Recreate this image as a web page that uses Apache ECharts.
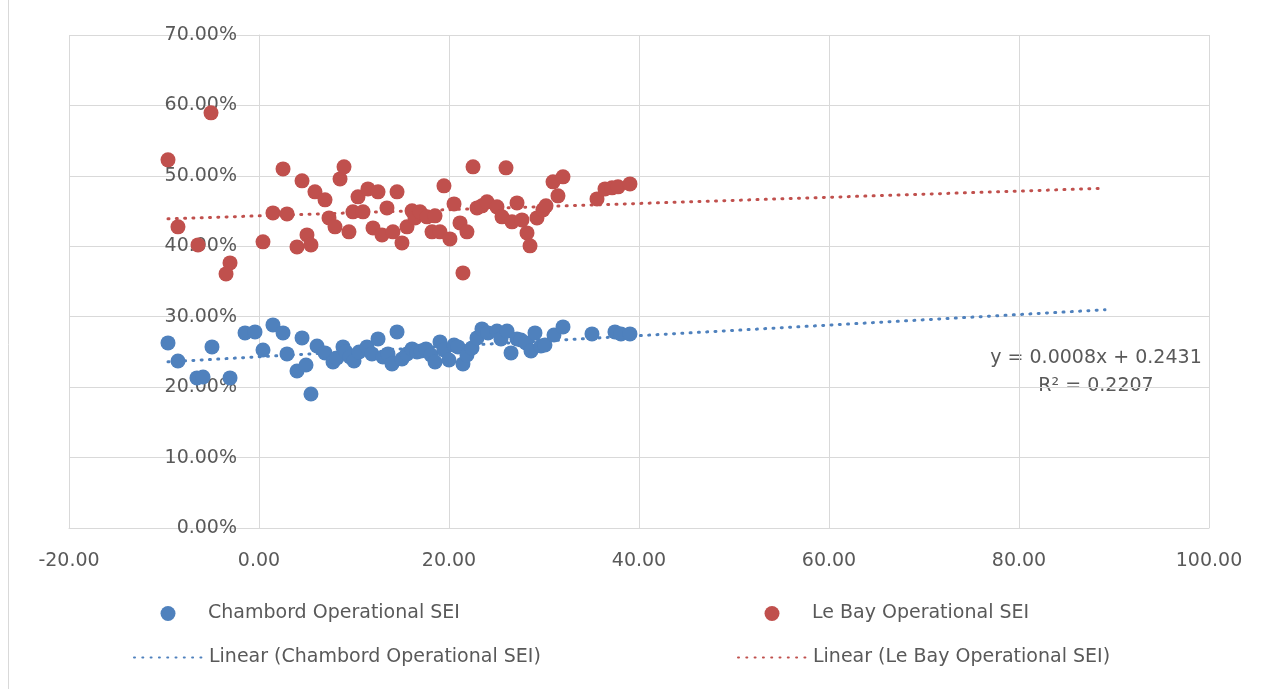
<!DOCTYPE html>
<html>
<head>
<meta charset="utf-8">
<script src="https://cdn.jsdelivr.net/npm/echarts@6/dist/echarts.min.js"></script>
<style>
html,body{margin:0;padding:0;background:#fff;}
#chart{width:1268px;height:689px;}
</style>
</head>
<body>
<div id="chart"></div>
<script>
// ---- Data ----
const chambordX = [-9.58,-8.53,-6.53,-5.89,-4.95,-3.05,-1.47,-0.42,0.42,1.47,2.53,2.95,4.53,4.00,4.95,5.47,6.11,6.95,7.79,8.2,8.84,9.16,9.58,10.0,10.53,11.37,11.89,12.53,13.05,13.58,14.0,14.53,15.05,15.58,16.11,16.63,17.05,17.58,18.11,18.53,19.05,19.47,20.0,20.53,20.95,21.47,21.89,22.42,22.95,23.47,24.1,25.05,25.47,26.11,26.53,27.16,27.58,28.1,28.63,29.05,29.68,30.1,31.05,32.0,35.05,37.47,38.1,39.05];
const chambordY = [0.2628,0.2372,0.2131,0.2145,0.2571,0.2131,0.2770,0.2784,0.2528,0.2884,0.2770,0.2472,0.2699,0.2230,0.2315,0.1903,0.2585,0.2486,0.2358,0.2415,0.2571,0.2500,0.2429,0.2372,0.2500,0.2571,0.2472,0.2685,0.2429,0.2472,0.2330,0.2784,0.2400,0.2472,0.2543,0.2500,0.2514,0.2543,0.2457,0.2358,0.2642,0.2528,0.2386,0.2599,0.2571,0.2330,0.2457,0.2557,0.2699,0.2827,0.2770,0.2798,0.2685,0.2798,0.2486,0.2685,0.2670,0.2628,0.2514,0.2770,0.2585,0.2599,0.2741,0.2855,0.2756,0.2784,0.2756,0.2756];
const leBayX = [-9.58,-8.53,-6.42,-5.05,-3.05,-3.47,0.42,1.47,2.53,2.95,4.53,4.0,5.05,5.47,5.89,6.95,7.37,8.0,8.53,8.95,9.47,9.89,10.42,10.95,11.47,12.0,12.53,12.95,13.47,14.1,14.53,15.05,15.58,16.11,16.42,16.95,17.68,18.21,18.53,19.05,19.47,20.1,20.53,21.16,21.47,21.89,22.53,22.95,23.47,24.0,25.05,25.58,26.0,26.63,27.16,27.68,28.21,28.53,29.26,29.89,30.21,30.95,31.47,32.0,35.58,36.42,37.16,37.79,39.05];
const leBayY = [0.5227,0.4276,0.4020,0.5895,0.3764,0.3608,0.4063,0.4474,0.5099,0.4460,0.4929,0.3991,0.4162,0.4020,0.4773,0.4659,0.4403,0.4276,0.4957,0.5128,0.4205,0.4489,0.4702,0.4489,0.4815,0.4261,0.4773,0.4162,0.4545,0.4205,0.4773,0.4048,0.4276,0.4503,0.4403,0.4489,0.4418,0.4205,0.4432,0.4205,0.4858,0.4105,0.4602,0.4332,0.3622,0.4205,0.5128,0.4545,0.4574,0.4631,0.4560,0.4418,0.5114,0.4347,0.4616,0.4375,0.4190,0.4006,0.4403,0.4517,0.4574,0.4915,0.4716,0.4986,0.4673,0.4815,0.4830,0.4844,0.4886];
// Linear trendline coefficients (as drawn), forecast forward 50 units
const chambordTrend = {slope: 0.00075, intercept: 0.2431};
const leBayTrend = {slope: 0.00044, intercept: 0.4432};
const trendForward = 50;
const seriesNames = ['Chambord Operational SEI','Le Bay Operational SEI','Linear (Chambord Operational SEI)','Linear (Le Bay Operational SEI)'];
const equationText = ['y = 0.0008x + 0.2431','R\u00B2 = 0.2207'];
const xTicks = {min:-20, max:100, interval:20};
const yTicks = {min:0, max:0.7, interval:0.1};

// ---- Build ----
const blue = '#4F81BD', red = '#C0504D';
const txt = '#595959', grid = '#D9D9D9';
const FONT = 'DejaVu Sans';
const W = 1268, GL = 69, GR = 59;
const plotW = W - GL - GR;
// y axis crosses the x axis at x = 0
const yAxisOffset = -((0 - xTicks.min) / (xTicks.max - xTicks.min)) * plotW;

function pairs(xs, ys){ return xs.map((x,i)=>[x, ys[i]]); }
function trend(xs, t){
  const x0 = Math.min(...xs), x1 = Math.max(...xs) + trendForward;
  return [[x0, t.intercept + t.slope*x0],[x1, t.intercept + t.slope*x1]];
}
const dotStyle = (c)=>({color:c, width:3, type:[1,7.3], cap:'round'});
const legendBase = {orient:'horizontal', itemWidth:70, itemHeight:15, padding:0,
  textStyle:{color:txt, fontSize:19, fontFamily:FONT}, symbolKeepAspect:true};

const chart = echarts.init(document.getElementById('chart'), null, {renderer:'canvas'});
chart.setOption({
  animation:false,
  backgroundColor:'#fff',
  grid:{left:GL, right:GR, top:35, bottom:161, containLabel:false, outerBoundsMode:'none'},
  xAxis:{type:'value', min:xTicks.min, max:xTicks.max, interval:xTicks.interval,
    axisLine:{show:true, onZero:true, lineStyle:{color:grid, width:1}},
    axisTick:{show:false},
    axisLabel:{color:txt, fontSize:19, fontFamily:FONT, margin:24, formatter:v=>v.toFixed(2)},
    splitLine:{show:true, lineStyle:{color:grid, width:1}}},
  yAxis:{type:'value', min:yTicks.min, max:yTicks.max, interval:yTicks.interval,
    position:'left', offset:yAxisOffset,
    axisLine:{show:true, onZero:false, lineStyle:{color:grid, width:1}},
    axisTick:{show:false},
    axisLabel:{color:txt, fontSize:19, fontFamily:FONT, margin:22, formatter:v=>(v*100).toFixed(2)+'%'},
    splitLine:{show:true, lineStyle:{color:grid, width:1}}},
  legend:[
    Object.assign({}, legendBase, {data:[{name:seriesNames[0], icon:'circle'}], left:160.5, top:604}),
    Object.assign({}, legendBase, {data:[{name:seriesNames[1], icon:'circle'}], left:764.5, top:604}),
    Object.assign({}, legendBase, {data:[seriesNames[2]], left:133, top:648, itemStyle:{opacity:0}}),
    Object.assign({}, legendBase, {data:[seriesNames[3]], left:737, top:648, itemStyle:{opacity:0}})
  ],
  series:[
    {name:seriesNames[2], type:'line', data:trend(chambordX, chambordTrend), symbol:'none', z:1,
      lineStyle:dotStyle(blue), itemStyle:{color:blue}},
    {name:seriesNames[3], type:'line', data:trend(leBayX, leBayTrend), symbol:'none', z:1,
      lineStyle:dotStyle(red), itemStyle:{color:red}},
    {name:seriesNames[0], type:'scatter', data:pairs(chambordX, chambordY), symbolSize:15, z:3,
      itemStyle:{color:blue, opacity:1}},
    {name:seriesNames[1], type:'scatter', data:pairs(leBayX, leBayY), symbolSize:15, z:3,
      itemStyle:{color:red, opacity:1}}
  ],
  graphic:[
    {type:'text', x:1096, y:358, style:{text:equationText[0], fill:txt, font:'19px "DejaVu Sans"', textAlign:'center', textVerticalAlign:'middle'}},
    {type:'text', x:1096, y:386, style:{text:equationText[1], fill:txt, font:'19px "DejaVu Sans"', textAlign:'center', textVerticalAlign:'middle'}},
    {type:'rect', shape:{x:8.5, y:-2, width:1300, height:700}, style:{fill:'none', stroke:'#D9D9D9', lineWidth:1}, silent:true}
  ]
});
</script>
</body>
</html>
